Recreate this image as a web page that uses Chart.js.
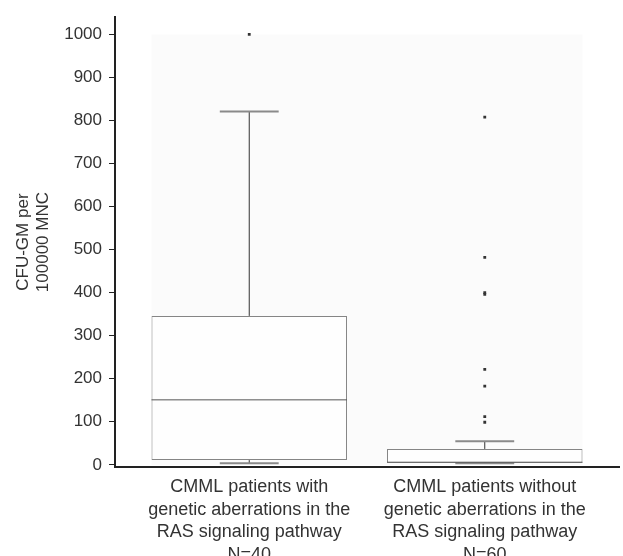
<!DOCTYPE html>
<html>
<head>
<meta charset="utf-8">
<script src="https://cdn.jsdelivr.net/npm/chart.js@4/dist/chart.umd.min.js"></script>
<style>
  html, body { margin: 0; padding: 0; background: #fff; }
  #wrap { width: 623px; height: 556px; }
</style>
</head>
<body>
<div id="wrap"><canvas id="cfu"></canvas></div>
<script>
// box plot statistics
var groups = [
  ['CMML patients with', 'genetic aberrations in the', 'RAS signaling pathway', 'N=40'],
  ['CMML patients without', 'genetic aberrations in the', 'RAS signaling pathway', 'N=60']
];
var whiskerLow = [4, 4];
var q1 = [11, 5];
var medians = [151, 6];
var q3 = [346, 37];
var whiskerHigh = [821, 55];
var outliers = [
  [1000],
  [808, 482, 400, 396, 222, 183, 112, 99]
];
var yTicks = [0, 100, 200, 300, 400, 500, 600, 700, 800, 900, 1000];

var font = 'Arial, "Liberation Sans", sans-serif';
var boxW = 0.83;   // box width in x units
var capW = 0.25;

function seg(x1, y1, x2, y2, color, width) {
  return {
    type: 'line',
    data: [{x: x1, y: y1}, {x: x2, y: y2}],
    borderColor: color,
    borderWidth: width,
    pointRadius: 0,
    fill: false,
    tension: 0
  };
}

var datasets = [];

// outliers
datasets.push({
  type: 'scatter',
  data: outliers.reduce(function (all, list, i) {
    return all.concat(list.map(function (v) { return {x: i + 1, y: v}; }));
  }, []),
  pointStyle: 'rect',
  pointRadius: 2,
  backgroundColor: '#333',
  borderWidth: 0
});

groups.forEach(function (g, i) {
  var x = i + 1;
  datasets.push(seg(x - boxW / 2, medians[i], x + boxW / 2, medians[i], '#555', 1));
  datasets.push(seg(x - capW / 2, whiskerHigh[i], x + capW / 2, whiskerHigh[i], '#8a8a8a', 2));
  datasets.push(seg(x - capW / 2, whiskerLow[i], x + capW / 2, whiskerLow[i], '#8a8a8a', 2));
  datasets.push(seg(x, q3[i], x, whiskerHigh[i], '#333', 1));
  datasets.push(seg(x, whiskerLow[i], x, q1[i], '#333', 1));
});

// the boxes, drawn first
datasets.push({
  type: 'bar',
  data: groups.map(function (g, i) { return {x: i + 1, y: [q1[i], q3[i]]}; }),
  backgroundColor: '#fefefe',
  borderColor: '#858585',
  borderWidth: 1,
  borderSkipped: false,
  barPercentage: boxW,
  categoryPercentage: 1
});

var plotBg = {
  id: 'plotBg',
  beforeDatasetsDraw: function (chart) {
    var ctx = chart.ctx, x = chart.scales.x, y = chart.scales.y;
    var l = x.getPixelForValue(1 - boxW / 2);
    var r = x.getPixelForValue(groups.length + boxW / 2);
    var t = y.getPixelForValue(yTicks[yTicks.length - 1]);
    var b = y.getPixelForValue(0);
    ctx.save();
    ctx.fillStyle = '#fbfbfb';
    ctx.fillRect(l, t, r - l, b - t);
    ctx.restore();
  }
};

new Chart(document.getElementById('cfu'), {
  type: 'bar',
  data: {datasets: datasets},
  plugins: [plotBg],
  options: {
    responsive: true,
    maintainAspectRatio: false,
    animation: false,
    layout: {padding: {top: 12, right: 3, left: 0, bottom: 0}},
    plugins: {legend: {display: false}, tooltip: {enabled: false}},
    scales: {
      x: {
        type: 'linear',
        offset: false,
        min: 0.43,
        max: 2.57,
        afterBuildTicks: function (scale) {
          scale.ticks = groups.map(function (g, i) { return {value: i + 1}; });
        },
        afterFit: function (scale) { scale.height = 89; },
        grid: {display: false, drawTicks: false, offset: false},
        border: {display: true, color: '#222', width: 2},
        ticks: {
          padding: 9,
          color: '#333',
          font: {family: font, size: 18, lineHeight: 1.25},
          maxRotation: 0,
          autoSkip: false,
          callback: function (v, i) { return groups[i]; }
        }
      },
      y: {
        min: -5,
        max: 1040,
        afterBuildTicks: function (scale) {
          scale.ticks = yTicks.map(function (v) { return {value: v}; });
        },
        afterFit: function (scale) { scale.width = 115; },
        grid: {display: true, drawOnChartArea: false, drawTicks: true, tickLength: 6, color: '#222', lineWidth: 1},
        border: {display: true, color: '#222', width: 2},
        ticks: {
          padding: 7,
          color: '#333',
          font: {family: font, size: 17},
          callback: function (v) { return String(v); }
        },
        title: {
          display: true,
          text: ['CFU-GM per', '100000 MNC'],
          color: '#333',
          font: {family: font, size: 17},
          padding: {top: 13, bottom: 0}
        }
      }
    }
  }
});
</script>
</body>
</html>
